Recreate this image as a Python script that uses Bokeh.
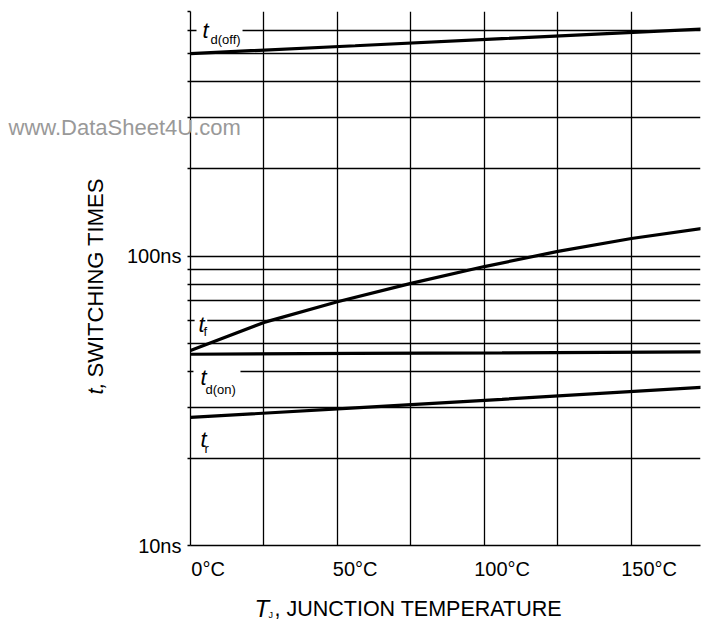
import math
from bokeh.plotting import figure
from bokeh.models import Range1d, FixedTicker, Label, BoxAnnotation, CustomJSTickFormatter, GridBox
from bokeh.embed import file_html
from bokeh.resources import INLINE

# ---- data ----
temps_fall = [-6, 19, 44, 69, 94, 119, 144, 168]          # deg C
t_f = [47.2, 59.0, 69.5, 80.5, 92.0, 103.8, 115.0, 124.5]  # ns

temps = [-6, 50, 100, 168]                                  # deg C
t_d_off = [501, 533, 564, 609]                              # ns
t_d_on = [45.8, 46.1, 46.3, 46.7]                           # ns
t_r = [27.7, 29.9, 32.0, 35.2]                              # ns

x_ticks = [0, 50, 100, 150]
x_grid = [-6, 19, 44, 69, 94, 119, 144, 169]
y_major = [10, 100]
y_minor = [20, 30, 40, 50, 60, 70, 80, 90, 200, 300, 400, 500, 600, 700]

FONT = "Liberation Sans"
W, H = 701, 623

p = figure(width=W, height=H, x_range=Range1d(-6, 167.5), y_range=Range1d(10, 700),
           y_axis_type="log", output_backend="svg", toolbar_location=None,
           min_border_left=190, min_border_right=1, min_border_top=11, min_border_bottom=78)
p.frame_align = False
p.outline_line_color = None
p.background_fill_color = "white"
p.border_fill_color = "white"

# x axis
p.xaxis.ticker = FixedTicker(ticks=x_ticks)
p.xaxis.formatter = CustomJSTickFormatter(code="return tick + '\u00b0C'")
p.xaxis.major_tick_line_color = None
p.xaxis.minor_tick_line_color = None
p.xaxis.axis_line_color = "black"
p.xaxis.axis_line_width = 1.3
p.xaxis.major_label_text_font = FONT
p.xaxis.major_label_text_font_size = "20px"
p.xaxis.major_label_text_color = "black"
p.xaxis.major_label_standoff = 6

# y axis
p.yaxis.ticker = FixedTicker(ticks=y_major, minor_ticks=y_minor)
p.yaxis.formatter = CustomJSTickFormatter(code="return tick + 'ns'")
p.yaxis.major_tick_out = 3
p.yaxis.major_tick_in = 0
p.yaxis.minor_tick_out = 3
p.yaxis.minor_tick_in = 0
p.yaxis.major_tick_line_color = "black"
p.yaxis.minor_tick_line_color = "black"
p.yaxis.major_tick_line_width = 1.3
p.yaxis.minor_tick_line_width = 1.3
p.yaxis.axis_line_color = "black"
p.yaxis.axis_line_width = 1.3
p.yaxis.major_label_text_font = FONT
p.yaxis.major_label_text_font_size = "20px"
p.yaxis.major_label_text_color = "black"
p.yaxis.major_label_standoff = 6

# grids
p.xgrid.ticker = FixedTicker(ticks=x_grid)
p.xgrid.grid_line_color = "black"
p.xgrid.grid_line_width = 1.3
p.ygrid.ticker = FixedTicker(ticks=y_major + y_minor)
p.ygrid.grid_line_color = "black"
p.ygrid.grid_line_width = 1.3

# curves
p.line(temps, t_d_off, line_width=3.2, color="black")
p.line(temps_fall, t_f, line_width=3.2, color="black")
p.line(temps, t_d_on, line_width=3.2, color="black")
p.line(temps, t_r, line_width=3.2, color="black")

# white boxes behind the curve labels (break the grid lines)
for l, r, b, t in [(-3.96, 11.7, 547, 641), (-4.6, -0.3, 57.8, 62.0), (-5.0, 11.0, 37.2, 42.9)]:
    p.add_layout(BoxAnnotation(left=l, right=r, bottom=b, top=t, fill_color="white",
                               fill_alpha=1.0, line_alpha=0.0))


def lab(fig, x, y, text, size, italic=False, color="black", angle=0.0):
    fig.add_layout(Label(x=x, y=y, text=text,
                         text_font=FONT, text_font_size=size,
                         text_font_style="italic" if italic else "normal",
                         text_color=color, text_align="left", text_baseline="alphabetic",
                         angle=angle))


# curve labels (data units: deg C, ns)
lab(p, -1.9, 604, "t", "22px", italic=True)
lab(p, 0.8, 560, "d(off)", "13px")
lab(p, -3.3, 58.2, "t", "22px", italic=True)
lab(p, -1.6, 54.8, "f", "13px")
lab(p, -2.6, 38.2, "t", "22px", italic=True)
lab(p, -0.9, 34.6, "d(on)", "13px")
lab(p, -2.6, 23.3, "t", "22px", italic=True)
lab(p, -1.2, 21.6, "r", "13px")

# transparent overlay in page pixels for the texts outside the plot frame
q = figure(width=W, height=H, x_range=Range1d(0, W), y_range=Range1d(H, 0),
           output_backend="svg", toolbar_location=None,
           x_axis_location=None, y_axis_location=None,
           min_border=0, min_border_left=0, min_border_right=0,
           min_border_top=0, min_border_bottom=0)
q.frame_align = False
q.grid.visible = False
q.outline_line_color = None
q.background_fill_color = None
q.border_fill_color = None
q.background_fill_alpha = 0
q.border_fill_alpha = 0

lab(q, 8, 126.5, "www.DataSheet4U.com", "22px", color="#999999")
lab(q, 94.6, 394, "t,", "22px", italic=True, angle=math.pi / 2)
lab(q, 94.6, 377, "SWITCHING TIMES", "22px", angle=math.pi / 2)
lab(q, 254, 608, "T", "24px", italic=True)
lab(q, 268, 614.6, "J", "9px")
lab(q, 274, 608.8, ", JUNCTION TEMPERATURE", "21.5px")

layout = GridBox(children=[(p, 0, 0), (q, 0, 0)])

open("out.html", "w").write(file_html(layout, INLINE))
